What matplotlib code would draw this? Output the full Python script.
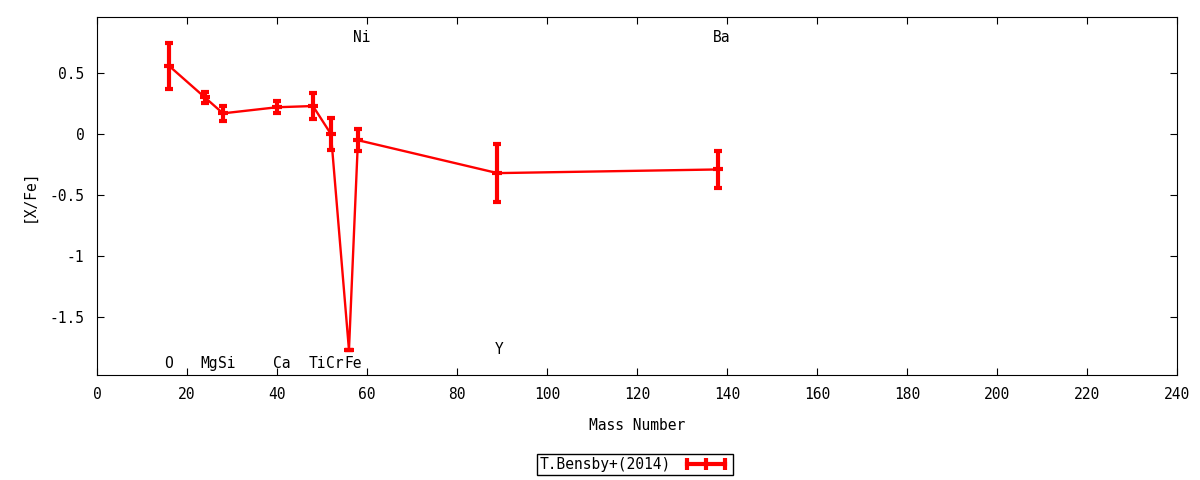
import matplotlib
matplotlib.use("Agg")
import matplotlib.pyplot as plt
from matplotlib.lines import Line2D

# mass number, [X/Fe], error
elements = ["O", "Mg", "Si", "Ca", "Ti", "Cr", "Fe", "Ni", "Y", "Ba"]
mass = [16, 24, 28, 40, 48, 52, 56, 58, 89, 138]
xfe = [0.56, 0.30, 0.17, 0.22, 0.23, 0.0, -1.77, -0.05, -0.32, -0.29]
err = [0.19, 0.045, 0.06, 0.05, 0.11, 0.13, 0.0, 0.09, 0.24, 0.15]

# where each element name sits on the plot
label_x = [16.0, 24.9, 28.9, 41.0, 48.9, 52.9, 56.9, 58.9, 89.4, 138.9]
label_y = [-1.88, -1.88, -1.88, -1.88, -1.88, -1.88, -1.88, 0.795, -1.77, 0.795]

plt.rcParams["font.family"] = "DejaVu Sans Mono"
plt.rcParams["font.size"] = 10.5

fig = plt.figure(figsize=(12, 4.8), dpi=100)
ax = fig.add_axes([0.0808, 0.2188, 0.9, 0.7458])

ax.errorbar(mass, xfe, yerr=err, color="red", lw=1.7, elinewidth=3,
            capsize=3, capthick=2.5, marker="_", markersize=7, mew=3)

for name, lx, ly in zip(elements, label_x, label_y):
    ax.text(lx, ly, name, ha="center", va="center")

ax.set_xlim(0, 240)
ax.set_ylim(-1.975, 0.96)
ax.set_xticks(range(0, 241, 20))
ax.set_yticks([0.5, 0, -0.5, -1, -1.5])
ax.set_yticklabels(["0.5", "0", "-0.5", "-1", "-1.5"])
ax.tick_params(direction="in", top=True, right=True, length=5, pad=9)
ax.set_xlabel("Mass Number", labelpad=11)
ax.set_ylabel("[X/Fe]", labelpad=9)

handle = Line2D([], [], color="red", lw=3, marker="|", markersize=8, mew=3)
ax.legend([handle], ["T.Bensby+(2014)"], loc="center",
          bbox_to_anchor=(0.498, -0.25), markerfirst=False, numpoints=3,
          fancybox=False, edgecolor="black", framealpha=1, borderpad=0.2,
          handlelength=3.2)

fig.savefig("out.png", dpi=100)
